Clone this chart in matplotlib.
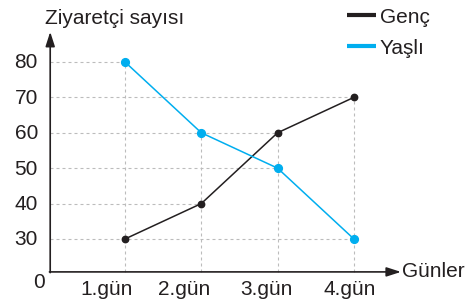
import matplotlib.pyplot as plt

plt.rcParams['font.family'] = ['Liberation Sans', 'DejaVu Sans']

# veriler
gunler = ['1.gün', '2.gün', '3.gün', '4.gün']
genc = [30, 40, 60, 70]
yasli = [80, 60, 50, 30]
y_ticks = [30, 40, 50, 60, 70, 80]

x = [1, 2, 3, 4]
x0 = 0.02      # dikey eksenin yeri
taban = 20.7   # 0 çizgisinin yeri (kırık eksen)
etiket_kayma = [-0.24, -0.23, -0.15, -0.06]  # gün yazıları biraz solda

siyah = '#231f20'
mavi = '#00aeef'
gri = '#bcbcbc'

fig = plt.figure(figsize=(4.73, 3.06), dpi=100)
ax = fig.add_axes([0, 0, 1, 1])
ax.set_xlim(-0.638, 5.561)
ax.set_ylim(11.07, 97.5)
ax.axis('off')

# kesikli yardımcı çizgiler (noktalara kadar)
for v in y_ticks:
    xs = [xi for xi, a, b in zip(x, genc, yasli) if v in (a, b)]
    if xs:
        ax.plot([x0, max(xs)], [v, v], color=gri, lw=0.8, ls=(0, (2.7, 2.7)), zorder=1)
for xi, a, b in zip(x, genc, yasli):
    ax.plot([xi, xi], [taban, max(a, b)], color=gri, lw=0.8, ls=(0, (2.7, 2.7)), zorder=1)

# seriler
ax.plot(x, genc, color=siyah, lw=1.1, marker='o', ms=4.6, zorder=3)
ax.plot(x, yasli, color=mavi, lw=1.1, marker='o', ms=5.6, zorder=3)

# eksenler (oklu)
ok = dict(arrowstyle='-|>,head_length=0.62,head_width=0.2', color=siyah, lw=1.2,
          mutation_scale=14, shrinkA=0, shrinkB=0)
ax.annotate('', xy=(4.617, taban), xytext=(x0 - 0.01, taban), arrowprops=ok, zorder=4)
ax.annotate('', xy=(x0, 88.5), xytext=(x0, taban - 0.2), arrowprops=ok, zorder=4)

# etiketler
fs = 15
for v in y_ticks:
    ax.text(-0.14, v - 1.8, str(v), ha='right', va='baseline', fontsize=fs, color=siyah)
ax.text(-0.127, 16.16, '0', ha='center', va='baseline', fontsize=fs, color=siyah)
for xi, d, g in zip(x, etiket_kayma, gunler):
    ax.text(xi + d, 14.18, g, ha='center', va='baseline', fontsize=fs, color=siyah)
ax.text(4.635, 19.27, 'Günler', ha='left', va='baseline', fontsize=fs, color=siyah)
ax.text(-0.048, 90.7, 'Ziyaretçi sayısı', ha='left', va='baseline', fontsize=fs, color=siyah)

# lejant
seriler = [('Genç', siyah, 93.4, 91.1), ('Yaşlı', mavi, 84.6, 82.3)]
for ad, renk, yc, yb in seriler:
    ax.plot([3.91, 4.29], [yc, yc], color=renk, lw=3, solid_capstyle='butt')
    ax.text(4.342, yb, ad, ha='left', va='baseline', fontsize=fs, color=siyah)

plt.savefig('out.png', dpi=100)
